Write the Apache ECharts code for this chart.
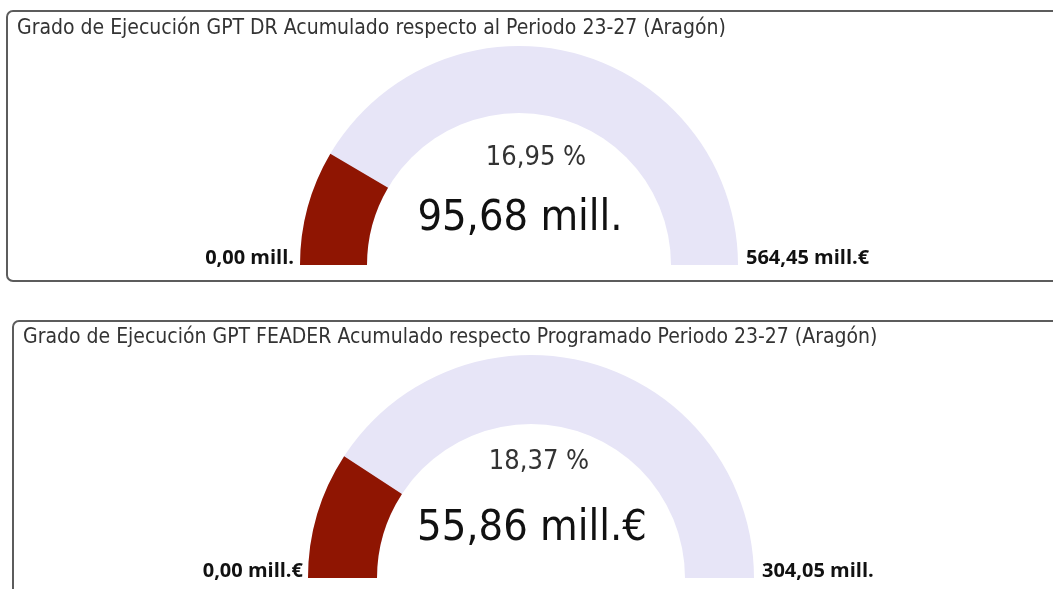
<!DOCTYPE html>
<html>
<head>
<meta charset="utf-8">
<script src="https://cdn.jsdelivr.net/npm/echarts@6/dist/echarts.min.js"></script>
<style>
html,body{margin:0;padding:0;background:#fff;}
#c{width:1053px;height:589px;}
</style>
</head>
<body>
<div id="c"></div>
<script>
// ---- data ----
const titulos = [
  'Grado de Ejecución GPT DR Acumulado respecto al Periodo 23-27 (Aragón)',
  'Grado de Ejecución GPT FEADER Acumulado respecto Programado Periodo 23-27 (Aragón)'
];
const ejecutado = [95.68, 55.86];        // mill. €
const programado = [564.45, 304.05];     // mill. €
const minimos = [0, 0];
const porcentaje = [16.95, 18.37];       // %
const sufijoValor = [' mill.', ' mill.€'];
const sufijoMin = [' mill.', ' mill.€'];
const sufijoMax = [' mill.€', ' mill.'];

// ---- layout ----
const layout = [
  {center:[519,265], radius:219, width:67, pctOff:[17,-107], valOff:[1,-46], titleX:17, titleY:18,
   minX:294, maxX:746, labY:258, panel:{x:7,y:11,w:1070,h:270}},
  {center:[531,578], radius:223, width:69, pctOff:[8,-116], valOff:[1,-49], titleX:23, titleY:327,
   minX:303, maxX:762, labY:571, panel:{x:13,y:321,w:1070,h:320}}
];

const fmt = v => v.toFixed(2).replace('.', ',');
const titleFont = "'DejaVu Sans Condensed','Liberation Sans Narrow','Noto Sans',sans-serif";
const labelFont = "'Open Sans','Noto Sans',sans-serif";

const chart = echarts.init(document.getElementById('c'), null, {renderer:'canvas'});

const series = [], graphics = [], titles = [];
layout.forEach((L, i) => {
  graphics.push({type:'rect', z:-1, shape:{x:L.panel.x, y:L.panel.y, width:L.panel.w, height:L.panel.h, r:6},
    style:{fill:'#fff', stroke:'#5c5c5c', lineWidth:2}});
  titles.push({text:titulos[i], left:L.titleX, top:L.titleY, padding:0,
    textStyle:{fontFamily:titleFont, fontSize:21, fontWeight:'normal', color:'#333'}});
  series.push({
    type:'gauge', center:L.center, radius:L.radius, startAngle:180, endAngle:0,
    min:minimos[i], max:programado[i],
    axisLine:{lineStyle:{width:L.width, color:[[1,'#E7E5F7']]}},
    progress:{show:true, width:L.width, roundCap:false, itemStyle:{color:'#8F1502'}},
    pointer:{show:false}, anchor:{show:false},
    axisTick:{show:false}, splitLine:{show:false}, axisLabel:{show:false},
    title:{offsetCenter:L.pctOff, fontSize:27, color:'#333', fontFamily:titleFont},
    detail:{offsetCenter:L.valOff, fontSize:43, fontWeight:'normal', color:'#111', fontFamily:titleFont,
      formatter: (v => fmt(v) + sufijoValor[i])},
    data:[{value:ejecutado[i], name:fmt(porcentaje[i]) + ' %'}],
    animation:false
  });
  graphics.push({type:'text', x:L.minX, y:L.labY,
    style:{text:fmt(minimos[i]) + sufijoMin[i], align:'right', verticalAlign:'middle',
      font:"bold 20px " + labelFont, fill:'#111'}});
  graphics.push({type:'text', x:L.maxX, y:L.labY,
    style:{text:fmt(programado[i]) + sufijoMax[i], align:'left', verticalAlign:'middle',
      font:"bold 20px " + labelFont, fill:'#111'}});
});

chart.setOption({
  animation:false,
  title:titles,
  graphic:graphics,
  series:series
});
</script>
</body>
</html>
